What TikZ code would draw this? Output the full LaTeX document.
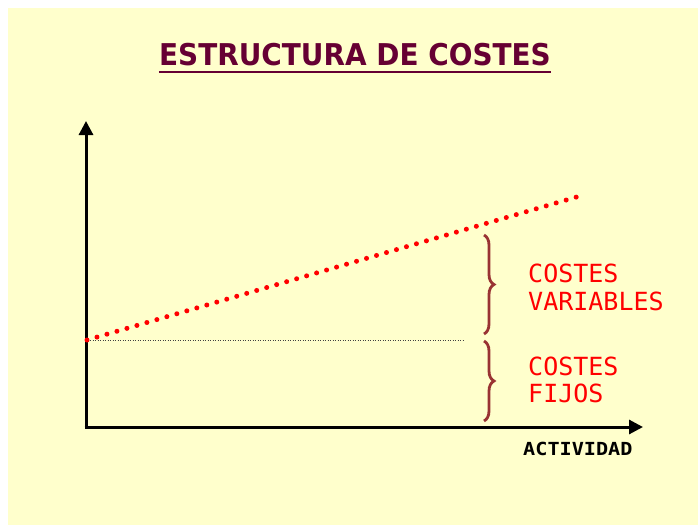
\documentclass[tikz,border=0pt]{standalone}
\usepackage{fontspec}
\setmainfont{Liberation Sans}
\newfontfamily\monosans{DejaVu Sans Mono}
\newfontfamily\titulofont{DejaVu Sans}
\usetikzlibrary{arrows.meta,decorations.pathreplacing}
\definecolor{papel}{HTML}{FFFFCC}
\definecolor{granate}{HTML}{660033}
\definecolor{llave}{HTML}{993333}
\definecolor{rojo}{HTML}{FF0000}

\begin{document}
\begin{tikzpicture}[x=1pt,y=-1pt,
  eje/.style={line width=3pt,-{Triangle[width=14pt,length=14pt]}},
  etiqueta/.style={text=rojo,font=\monosans\fontsize{25}{29}\selectfont,anchor=base west,inner sep=0pt},
  llaves/.style={decorate,decoration={brace,amplitude=10pt},draw=llave,line width=2.8pt}]
        \useasboundingbox (0,0) rectangle (698,525);
        \fill[white] (0,0) rectangle (698,525);
        \fill[papel] (8,8) rectangle (698,525);

        % titulo
        \node [inner sep=0pt,anchor=base,text=granate,xscale=0.93,
               font=\titulofont\bfseries\fontsize{30}{36}\selectfont] (titulo) at (355,65) {ESTRUCTURA DE COSTES};
        \draw [granate,line width=2.2pt] ([yshift=-6pt]titulo.south west) -- ([yshift=-6pt]titulo.south east);

        % ejes
        \coordinate (o) at (86,427);
        \coordinate (ytop) at (86,121);
        \coordinate (xend) at (643,427);
        \draw [eje] (o) -- (ytop);
        \draw [eje] ([xshift=-1.5pt]o) -- (xend);
        \node [inner sep=0pt,anchor=base west,font=\monosans\bfseries\fontsize{18}{22}\selectfont,xscale=1.12] (actividad) at (523,455) {ACTIVIDAD};

        % costes
        \coordinate (fijo0) at (90,340);
        \coordinate (fijo1) at (465,340);
        \coordinate (total0) at (87,340);
        \coordinate (total1) at (580,196);
        \draw [gray!50!black,line width=1pt,dash pattern=on 1pt off 1.5pt] (fijo0) -- (fijo1);
        \draw [rojo,line width=5pt,line cap=round,dash pattern=on 0pt off 10.4pt] (total0) -- (total1);

        % llaves
        \coordinate (v0) at (484,235);
        \coordinate (v1) at (484,334);
        \coordinate (f0) at (484,341);
        \coordinate (f1) at (484,421);
        \draw [llaves] (v0) -- (v1);
        \draw [llaves] (f0) -- (f1);

        \node [etiqueta] (costesv) at (528,282) {COSTES};
        \node [etiqueta] (variables) at (528,310) {VARIABLES};
        \node [etiqueta] (costesf) at (528,375) {COSTES};
        \node [etiqueta] (fijos) at (528,402) {FIJOS};
    \end{tikzpicture}
\end{document}
